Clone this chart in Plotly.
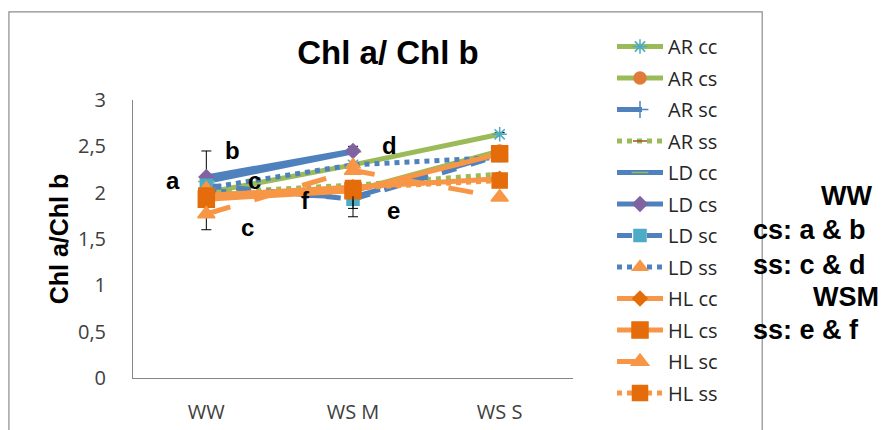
import plotly.graph_objects as go

categories = ["WW", "WS M", "WS S"]

ar_cc = [2.00, 2.30, 2.63]
ar_cs = [1.98, 2.02, 2.45]
ar_sc = [2.02, 1.95, 2.42]
ar_ss = [2.00, 2.08, 2.20]
ld_cc = [2.12, 2.44, None]
ld_cs = [2.17, 2.45, None]
ld_sc = [2.08, 1.93, 2.40]
ld_ss = [2.05, 2.30, 2.38]
hl_cc = [1.97, 2.06, 2.15]
hl_cs = [1.93, 2.02, 2.42]
hl_sc = [1.77, 2.24, 1.95]
hl_ss = [1.97, 2.05, 2.13]

ld_cs_err_up = [0.28, 0.05, 0.0]
hl_sc_err_down = [0.17, 0.0, 0.0]
hl_cs_err_down = [0.0, 0.28, 0.0]
hl_ss_err_down = [0.0, 0.22, 0.0]
ar_cc_err_up = [0.0, 0.0, 0.02]

GREEN = "#9BBB59"
BLUE = "#4F81BD"
ORANGE = "#F79646"
DORANGE = "#E46C0A"
BOLD = "Liberation Sans, Arial"

fig = go.Figure()


def add(name, y, color, dash, symbol, mcolor, msize=11, err=None):
    fig.add_trace(
        go.Scatter(
            x=categories, y=y, name=name, mode="lines+markers",
            line=dict(color=color, width=5, dash=dash),
            marker=dict(symbol=symbol, color=mcolor, size=msize,
                        line=dict(color=mcolor, width=1.5)),
            error_y=err, legendgroup=name,
        )
    )


def err(plus=None, minus=None):
    return dict(type="data", symmetric=False,
                array=plus or [0, 0, 0], arrayminus=minus or [0, 0, 0],
                color="black", thickness=1, width=5)


add("AR cc", ar_cc, GREEN, "solid", "asterisk-open", "#4BACC6", 12, err(plus=ar_cc_err_up))
add("AR cs", ar_cs, GREEN, "solid", "circle", "#E07B39", 12)
add("AR sc", ar_sc, BLUE, "longdash", "cross-thin-open", BLUE, 12)
add("AR ss", ar_ss, GREEN, "dot", "line-ew-open", "#A0522D", 10)
add("LD cc", ld_cc, BLUE, "solid", "line-ew-open", GREEN, 12)
add("LD cs", ld_cs, BLUE, "solid", "diamond", "#8064A2", 11, err(plus=ld_cs_err_up))
add("LD sc", ld_sc, BLUE, "dash", "square", "#4BACC6", 12)
add("LD ss", ld_ss, BLUE, "dot", "triangle-up", ORANGE, 13)
add("HL cc", hl_cc, ORANGE, "solid", "diamond", DORANGE, 11)
add("HL cs", hl_cs, ORANGE, "solid", "square", DORANGE, 16, err(minus=hl_cs_err_down))
add("HL sc", hl_sc, ORANGE, "longdash", "triangle-up", ORANGE, 15, err(minus=hl_sc_err_down))
add("HL ss", hl_ss, ORANGE, "dot", "square", DORANGE, 15, err(minus=hl_ss_err_down))

# chart frame (Excel chart area border)
fig.add_shape(type="rect", xref="paper", yref="paper",
              x0=-0.282, x1=1.43, y0=-0.25, y1=1.317,
              line=dict(color="#8C8C8C", width=1.2), layer="below")

letters = [
    ("a", 0.091, 0.709), ("b", 0.227, 0.820), ("c", 0.277, 0.709),
    ("c", 0.261, 0.540), ("d", 0.584, 0.835), ("f", 0.391, 0.640),
    ("e", 0.591, 0.604),
]
for t, x, y in letters:
    fig.add_annotation(text=t, x=x, y=y, xref="paper", yref="paper",
                       xanchor="center", yanchor="middle",
                       showarrow=False, font=dict(size=24, color="black",
                       family=BOLD, weight="bold"))

side = [("WW", 874, 196, "right"), ("cs: a & b", 751, 230, "left"),
        ("ss: c & d", 751, 265, "left"), ("WSM", 881, 297, "right"),
        ("ss: e & f", 751, 330, "left")]
for t, px, py, anchor in side:
    fig.add_annotation(text=t, x=(px - 133) / 440, y=(378 - py) / 278,
                       xref="paper", yref="paper", xanchor=anchor,
                       yanchor="middle", showarrow=False,
                       font=dict(size=27, color="black", family=BOLD,
                                 weight="bold"))

fig.update_layout(
    width=888, height=430,
    margin=dict(l=125, r=323, t=92, b=60, autoexpand=False),
    paper_bgcolor="white", plot_bgcolor="white",
    separators=", ",
    title=dict(text="<b>Chl a/ Chl b</b>", x=380 / 888, xref="container",
               xanchor="center", y=1 - 44 / 430, yanchor="middle",
               font=dict(size=33, color="black", family=BOLD)),
    font=dict(family="Open Sans, Liberation Sans", color="#404040"),
    legend=dict(x=604 / 888, xref="container", xanchor="left",
                y=1 - 19 / 430, yref="container", yanchor="top",
                font=dict(size=20, color="#262626"), tracegroupgap=2.5,
                itemwidth=46, bgcolor="rgba(0,0,0,0)", maxheight=425),
    showlegend=True,
)
fig.update_xaxes(type="category", range=[-0.5, 2.5], showline=True,
                 linecolor="#868686", linewidth=1, ticks="", showgrid=False,
                 tickfont=dict(size=20, color="#404040"), ticklabelstandoff=16,
                 zeroline=False, automargin=False)
fig.update_yaxes(range=[0, 3], dtick=0.5, showline=True, linecolor="#868686",
                 linewidth=1, ticks="", showgrid=False, zeroline=False,
                 tickformat=".1~f", automargin=False,
                 tickfont=dict(size=20, color="#404040"), ticklabelstandoff=22,
                 title=dict(text="<b>Chl a/Chl b</b>", standoff=2,
                            font=dict(size=25, color="black", family=BOLD)))

fig.write_html("out.html")
